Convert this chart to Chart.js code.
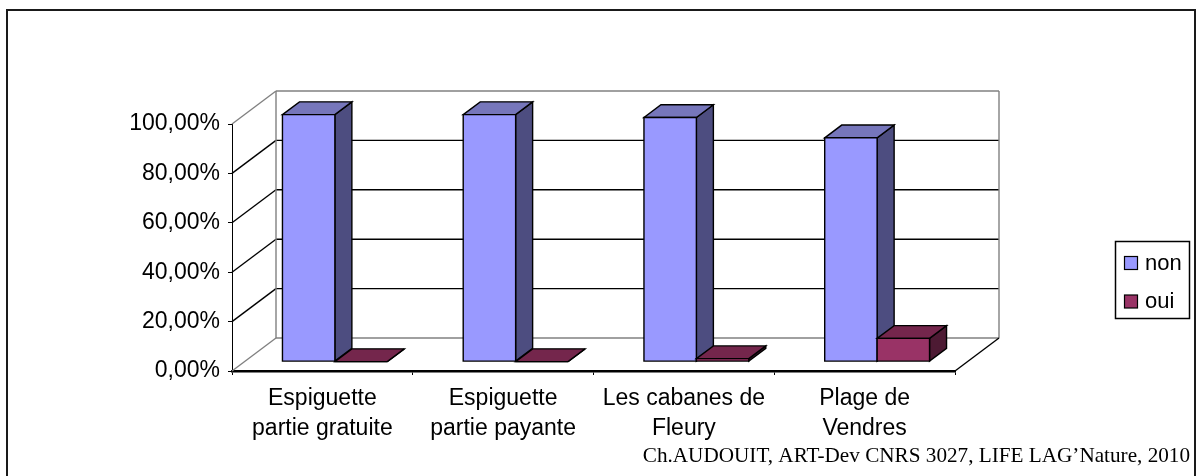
<!DOCTYPE html>
<html>
<head>
<meta charset="utf-8">
<title>non / oui par site</title>
<script src="https://cdn.jsdelivr.net/npm/chart.js@4.4.1/dist/chart.umd.min.js"></script>
<style>
  html, body { margin: 0; padding: 0; background: #ffffff; }
  canvas { display: block; }
</style>
</head>
<body>
<canvas id="chart" width="1196" height="476"></canvas>
<script>
// Sites surveyed (two-line axis labels)
const categories = [
  ["Espiguette", "partie gratuite"],
  ["Espiguette", "partie payante"],
  ["Les cabanes de", "Fleury"],
  ["Plage de", "Vendres"]
];
// Share of answers per site, in percent
const nonValues = [100, 100, 98.8, 90.6];
const ouiValues = [0, 0, 1.2, 9.4];
const seriesNames = ["non", "oui"];
const yTicks = [0, 20, 40, 60, 80, 100];
const caption = "Ch.AUDOUIT, ART-Dev CNRS 3027, LIFE LAG\u2019Nature, 2010";

// Face shades for the extruded columns: front, top, side
const faces = [
  { front: "#9999FF", top: "#7676BB", side: "#4D4D80" },
  { front: "#993366", top: "#74264C", side: "#4D1A33" }
];

// Oblique projection of the box: wall depth, column placement and column depth
const WALL = { dx: 44, dy: -33 };
const COL_SHIFT = { dx: 12.5, dy: -9.4 };
const COL_DEPTH = { dx: 17, dy: -12.75 };

const fmtPct = v => v.toFixed(2).replace(".", ",") + "%";

function seg(ctx, x1, y1, x2, y2) {
  ctx.beginPath();
  ctx.moveTo(x1, y1);
  ctx.lineTo(x2, y2);
  ctx.stroke();
}
function poly(ctx, pts, fill) {
  ctx.beginPath();
  ctx.moveTo(pts[0][0], pts[0][1]);
  for (let i = 1; i < pts.length; i++) ctx.lineTo(pts[i][0], pts[i][1]);
  ctx.closePath();
  ctx.fillStyle = fill;
  ctx.fill();
  ctx.stroke();
}

const box3d = {
  id: "box3d",
  beforeDatasetsDraw(chart) {
    const { ctx, chartArea: a, scales: { y } } = chart;
    ctx.save();
    ctx.lineWidth = 1.4;
    const first = yTicks[0], last = yTicks[yTicks.length - 1];
    yTicks.forEach(v => {
      const py = y.getPixelForValue(v);
      ctx.strokeStyle = (v === first || v === last) ? "#808080" : "#000000";
      // side wall
      seg(ctx, a.left, py, a.left + WALL.dx, py + WALL.dy);
      // back wall
      seg(ctx, a.left + WALL.dx, py + WALL.dy, a.right + WALL.dx, py + WALL.dy);
    });
    ctx.strokeStyle = "#808080";
    seg(ctx, a.left + WALL.dx, a.top + WALL.dy, a.left + WALL.dx, a.bottom + WALL.dy);
    seg(ctx, a.right + WALL.dx, a.top + WALL.dy, a.right + WALL.dx, a.bottom + WALL.dy);
    // floor, right edge
    ctx.strokeStyle = "#000000";
    seg(ctx, a.right, a.bottom, a.right + WALL.dx, a.bottom + WALL.dy);
    ctx.restore();
  },
  afterDatasetsDraw(chart) {
    const { ctx } = chart;
    ctx.save();
    ctx.lineWidth = 1.4;
    ctx.strokeStyle = "#000000";
    ctx.lineJoin = "miter";
    const n = chart.data.labels.length;
    for (let i = 0; i < n; i++) {
      chart.data.datasets.forEach((ds, d) => {
        const el = chart.getDatasetMeta(d).data[i];
        const p = el.getProps(["x", "y", "base", "width"], true);
        const L = p.x - p.width / 2 + COL_SHIFT.dx;
        const R = p.x + p.width / 2 + COL_SHIFT.dx;
        const T = p.y + COL_SHIFT.dy;
        const B = p.base + COL_SHIFT.dy;
        const c = faces[d];
        poly(ctx, [[R, T], [R + COL_DEPTH.dx, T + COL_DEPTH.dy], [R + COL_DEPTH.dx, B + COL_DEPTH.dy], [R, B]], c.side);
        poly(ctx, [[L, T], [R, T], [R + COL_DEPTH.dx, T + COL_DEPTH.dy], [L + COL_DEPTH.dx, T + COL_DEPTH.dy]], c.top);
        poly(ctx, [[L, T], [R, T], [R, B], [L, B]], c.front);
      });
    }
    ctx.restore();
  },
  afterDraw(chart) {
    const { ctx } = chart;
    ctx.save();
    // outer frame
    ctx.strokeStyle = "#1a1a1a";
    ctx.lineWidth = 2;
    ctx.strokeRect(7, 10, 1188, 500);

    // legend
    ctx.lineWidth = 1.5;
    ctx.strokeStyle = "#000000";
    ctx.strokeRect(1115.5, 241.5, 74, 77);
    ctx.font = '22px "Liberation Sans", Arial, sans-serif';
    ctx.textBaseline = "middle";
    ctx.textAlign = "left";
    chart.data.datasets.forEach((ds, d) => {
      const yy = 256.5 + d * 38.5;
      ctx.fillStyle = faces[d].front;
      ctx.fillRect(1124.5, yy, 13, 13);
      ctx.lineWidth = 1.2;
      ctx.strokeRect(1124.5, yy, 13, 13);
      ctx.fillStyle = "#000000";
      ctx.fillText(ds.label, 1145, yy + 7);
    });

    // source line
    ctx.font = '21.2px "Liberation Serif", "Times New Roman", serif';
    ctx.textAlign = "right";
    ctx.textBaseline = "alphabetic";
    ctx.fillStyle = "#000000";
    ctx.fillText(caption, 1190, 461.5);
    ctx.restore();
  }
};

Chart.defaults.font.family = '"Liberation Sans", Arial, sans-serif';
Chart.defaults.color = "#000000";

new Chart(document.getElementById("chart"), {
  type: "bar",
  data: {
    labels: categories,
    datasets: [
      { label: seriesNames[0], data: nonValues, backgroundColor: "rgba(0,0,0,0)", borderWidth: 0 },
      { label: seriesNames[1], data: ouiValues, backgroundColor: "rgba(0,0,0,0)", borderWidth: 0 }
    ]
  },
  options: {
    responsive: false,
    animation: false,
    events: [],
    layout: { padding: { left: 0, top: 124, right: 241, bottom: 0 } },
    datasets: { bar: { categoryPercentage: 0.58, barPercentage: 1 } },
    plugins: { legend: { display: false }, tooltip: { enabled: false } },
    scales: {
      x: {
        grid: { offset: true, drawOnChartArea: false, drawTicks: true, tickLength: 4, color: "#000000", lineWidth: 1 },
        border: { display: true, color: "#000000", width: 2.5 },
        ticks: {
          color: "#000000",
          font: { size: 23, lineHeight: 1.3 },
          padding: 9,
          maxRotation: 0,
          autoSkip: false
        },
        afterFit(scale) { scale.height = 105; }
      },
      y: {
        min: 0,
        max: 100,
        afterBuildTicks(scale) { scale.ticks = yTicks.map(v => ({ value: v })); },
        ticks: { color: "#000000", font: { size: 23 }, padding: 8, callback: v => fmtPct(v) },
        grid: { drawOnChartArea: false, drawTicks: true, tickLength: 4, color: "#000000", lineWidth: 1 },
        border: { display: true, color: "#000000", width: 1 },
        afterFit(scale) { scale.width = 232; }
      }
    }
  },
  plugins: [box3d]
});
</script>
</body>
</html>
